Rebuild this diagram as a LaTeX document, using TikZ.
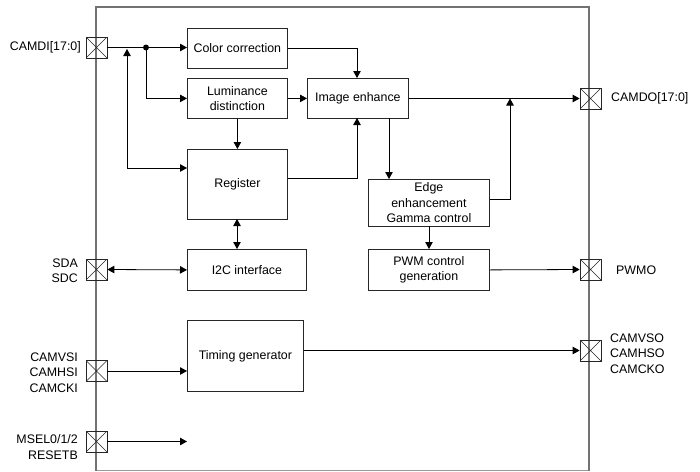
\documentclass[tikz,border=0pt]{standalone}
\usepackage{fontspec}
\setmainfont{Liberation Sans}
\usetikzlibrary{arrows.meta}
\begin{document}
\begin{tikzpicture}[x=1pt,y=-1pt,
  every node/.style={font=\fontsize{12.4}{15.5}\selectfont},
  blk/.style={draw=black!85, line width=0.8pt, align=center, inner sep=0pt, anchor=north west},
  pad/.style={draw=black!85, line width=0.7pt, minimum size=21pt, inner sep=0pt,
    path picture={\draw[line width=0.6pt] (path picture bounding box.north west) -- (path picture bounding box.south east)
      (path picture bounding box.north east) -- (path picture bounding box.south west);}},
  lbl/.style={align=right, inner sep=0pt},
  rlbl/.style={align=left, inner sep=0pt, anchor=west},
  wire/.style={line width=0.8pt, black},
  arr/.style={wire, -{Triangle[length=7pt,width=7.5pt]}},
  darr/.style={wire, {Triangle[length=7pt,width=7.5pt]}-{Triangle[length=7pt,width=7.5pt]}}]
\useasboundingbox (0,0) rectangle (700,471);
% chip outline
\draw[black!40, line width=0.6pt] (96,470) -- (589,470);
\draw[black!55, line width=1.2pt] (96,471) -- (96,7) -- (589,7) -- (589,471);

% blocks
\node[blk, minimum width=100pt, minimum height=40pt] (cc) at (187,28) {Color correction};
\node[blk, minimum width=100pt, minimum height=40pt] (lum) at (187,78) {Luminance\\distinction};
\node[blk, minimum width=101pt, minimum height=40pt] (ie) at (307,78) {Image enhance};
\node[blk, minimum width=100pt, minimum height=70pt] (reg) at (187,149) {Register};
\node[blk, minimum width=121pt, minimum height=47pt] (edge) at (368,179) {Edge\\enhancement\\Gamma control};
\node[blk, minimum width=119pt, minimum height=41pt] (i2c) at (187,249) {I2C interface};
\node[blk, minimum width=121pt, minimum height=41pt] (pwm) at (368,249) {PWM control\\generation};
\node[blk, minimum width=116pt, minimum height=71pt] (tim) at (187,320) {Timing generator};

% pads
\node[pad] (pdi) at (96.5,47.5) {};
\node[pad] (psda) at (96.5,269.5) {};
\node[pad] (pvsi) at (96.5,371) {};
\node[pad] (pmsel) at (96.5,441.5) {};
\node[pad] (pdo) at (590.5,98.5) {};
\node[pad] (ppwm) at (590.5,269.5) {};
\node[pad] (pvso) at (590.5,350.5) {};

% labels
\node[lbl, anchor=east] (ldi) at (81,47.5) {CAMDI[17:0]};
\node[lbl, anchor=east] (lsda) at (78,270.5) {SDA\\SDC};
\node[lbl, anchor=east] (lvsi) at (78,372.5) {CAMVSI\\CAMHSI\\CAMCKI};
\node[lbl, anchor=east] (lmsel) at (78,447) {MSEL0/1/2\\RESETB};
\node[rlbl] (ldo) at (611,98.5) {CAMDO[17:0]};
\node[rlbl] (lpwm) at (616,270) {PWMO};
\node[rlbl] (lvso) at (610,353.5) {CAMVSO\\CAMHSO\\CAMCKO};

% coordinates
\coordinate (dot) at (146,47.5);
\coordinate (rv) at (127,47.5);
\coordinate (mfree) at (187,441.5);
\coordinate (j) at (510,98.5);

% connectors
\draw[arr] (pdi.east) -- (cc.west |- pdi.east);
\fill (dot) circle (3pt);
\draw[arr] (dot) |- (lum.west);
\draw[arr] (lum.east) -- (ie.west);
\draw[arr] (lum.south) -- (reg.north);
\draw[arr] (cc.east) -| (357,78);
\draw[arr] (reg.east |- 0,178) -| (357,118);
\draw[darr] (rv |- 0,49) |- (reg.west |- 0,168);
\draw[arr] (ie.east) -- (pdo.west);
\draw[arr] (389,118) -- (389,179);
\draw[arr] (edge.east |- 0,199) -| (j);
\draw[arr] (429,226) -- (429,249);
\draw[arr] (pwm.east) -- (ppwm.west);
\draw[darr] (237,219) -- (237,249);
\draw[darr] (psda.east) -- (i2c.west);
\draw[arr] (tim.east |- 0,350.5) -- (pvso.west);
\draw[arr] (pvsi.east) -- (tim.west |- pvsi.east);
\draw[arr] (pmsel.east) -- (mfree);
\end{tikzpicture}
\end{document}
